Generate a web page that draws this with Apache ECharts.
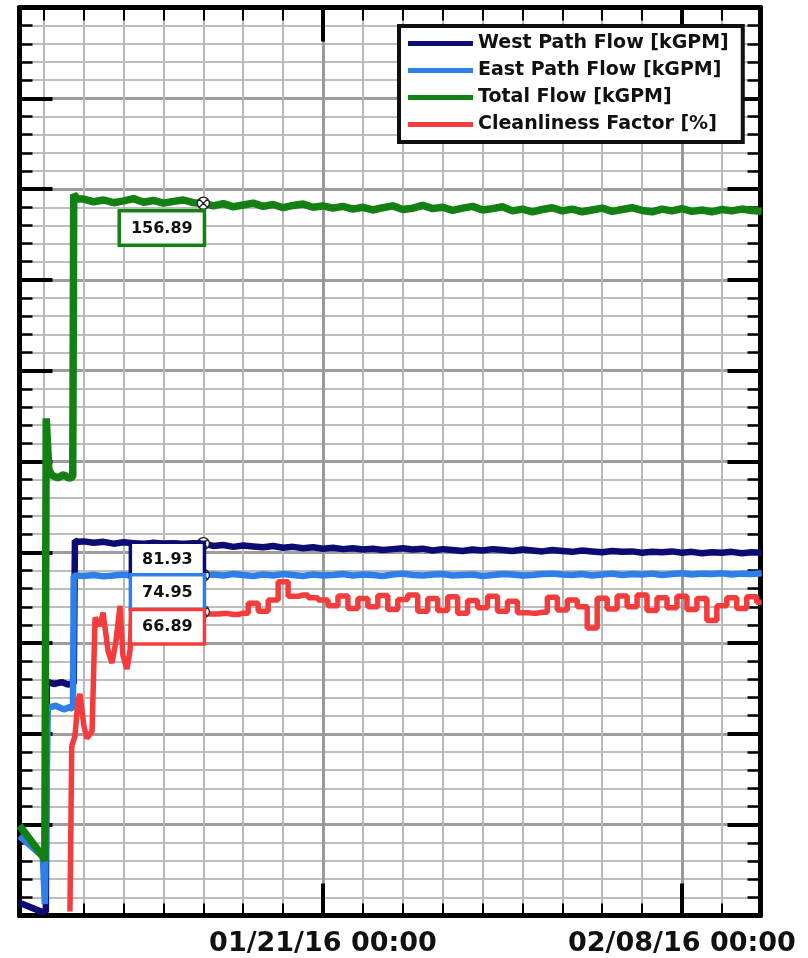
<!DOCTYPE html>
<html>
<head>
<meta charset="utf-8">
<title>Flow and Cleanliness Factor</title>
<script src="https://cdn.jsdelivr.net/npm/echarts@6/dist/echarts.min.js"></script>
<style>
  html, body { margin: 0; padding: 0; background: #fff; }
  #chart1 { width: 808px; height: 958px; }
</style>
</head>
<body>
<div id="chart1"></div>
<script>
// time is kept as days relative to 01/21/16 00:00
var DAY = 86400000;
var T0 = new Date(2016, 0, 21, 0, 0).getTime();
function toTime(d) { return T0 + d * DAY; }

var xMinDay = -15.22;
var xMaxDay = 21.94;
var gridDays = [-14, -12, -10, -8, -6, -4, -2, 0, 2, 4, 6, 8, 10, 12, 14, 16, 18, 20];
var majorDays = [0, 18];
var xTickLabels = ['01/21/16 00:00', '02/08/16 00:00'];

var seriesNames = ['West Path Flow [kGPM]', 'East Path Flow [kGPM]', 'Total Flow [kGPM]', 'Cleanliness Factor [%]'];
var seriesColors = ['#0b0b73', '#2e7fe8', '#138013', '#f53c3c'];

// datatips: day, value
var tipDay = -6;
var tipValues = [81.93, 74.95, 156.89, 66.89];

var STEP = 0.5;

// start-up part, [day, value]
var westEarly = [[-15.22, 2.8], [-14.1, 0.8], [-13.9, 0.8], [-13.85, 51.5], [-13.5, 51.0], [-13.1, 51.4], [-12.8, 50.9], [-12.5, 51.1], [-12.44, 82.6], [-12.3, 82.3]];
var westStart = -12.0;
var westSteady = [82.4, 82.1, 82.3, 81.9, 82.2, 82.0, 81.8, 82.1, 81.9, 82.0, 81.7, 82.0, 81.93,
  81.4, 81.6, 81.2, 81.5, 81.3, 81.1, 81.4, 81.0, 81.2, 80.9, 81.1, 80.8,
  81.0, 80.7, 80.9, 80.6, 80.8, 80.5, 80.7, 80.9, 80.6, 80.8, 80.4, 80.7, 80.5, 80.3, 80.6, 80.4,
  80.7, 80.5, 80.3, 80.6, 80.4, 80.2, 80.5, 80.3, 80.1, 80.4, 80.2, 80.0, 80.3, 80.1, 80.2, 79.9,
  80.1, 80.0, 80.2, 79.9, 80.1, 79.8, 80.0, 79.9, 80.1, 79.8, 80.0, 79.9];

var eastEarly = [[-15.22, 17.5], [-14.05, 13.0], [-13.95, 2.5], [-13.85, 2.5], [-13.8, 45.8], [-13.4, 46.2], [-13.0, 45.4], [-12.7, 45.9], [-12.54, 45.5], [-12.5, 74.8], [-12.3, 74.9]];
var eastStart = -12.0;
var eastSteady = [74.8, 75.0, 74.7, 74.9, 75.1, 74.8, 75.0, 74.9, 75.2, 74.9, 75.0, 74.8, 74.95,
  75.1, 74.9, 75.2, 75.0, 74.8, 75.1, 74.9, 75.2, 75.0, 74.8, 75.1, 74.9,
  75.0, 75.2, 74.9, 75.1, 75.0, 74.8, 75.1, 75.3, 75.0, 74.9, 75.1, 75.2, 74.9, 75.0, 75.1, 74.8,
  75.0, 75.2, 75.1, 74.9, 75.0, 75.2, 75.3, 75.1, 75.0, 75.2, 74.9, 75.1, 75.3, 75.0, 75.2, 75.1,
  75.3, 75.0, 75.2, 75.4, 75.1, 75.3, 75.2, 75.4, 75.1, 75.3, 75.2, 75.4];

var totalEarly = [[-15.22, 19.8], [-14.05, 13.0], [-13.95, 12.0], [-13.88, 109.5], [-13.75, 98.2], [-13.6, 97.0], [-13.3, 96.4], [-13.0, 97.1], [-12.75, 96.3], [-12.55, 96.6], [-12.5, 158.8], [-12.3, 157.8]];
var totalStart = -12.0;
var totalSteady = [157.8, 157.2, 157.6, 157.0, 157.4, 157.9, 157.1, 157.5, 156.9, 157.3, 157.6, 157.0, 156.89,
  156.3, 156.8, 156.1, 156.5, 156.9, 156.2, 156.6, 155.9, 156.4, 156.7, 156.0, 156.3,
  155.8, 156.2, 155.6, 156.0, 155.4, 155.9, 156.3, 155.5, 155.8, 156.4, 155.7, 156.0, 155.3, 155.8,
  156.2, 155.4, 155.7, 156.1, 155.2, 155.6, 155.0, 155.5, 155.9, 155.2, 155.6, 155.0, 155.4, 155.8,
  155.1, 155.5, 155.9, 155.3, 155.0, 155.6, 155.2, 155.7, 155.1, 155.4, 155.0, 155.5, 155.2, 155.6, 155.3, 155.1];

var cleanEarly = [[-12.69, 0.9], [-12.6, 37.3], [-12.44, 39.5], [-12.29, 47.2], [-12.19, 48.8], [-11.99, 41.7], [-11.84, 39.0],
  [-11.58, 40.6], [-11.43, 65.6], [-11.18, 63.8], [-11.03, 66.7], [-10.78, 58.3], [-10.58, 55.6], [-10.38, 60.5],
  [-10.18, 68.2], [-10.03, 57.2], [-9.83, 54.3], [-9.68, 58.3], [-9.53, 71.1], [-9.18, 68.2], [-8.68, 67.5],
  [-7.67, 67.1], [-6.67, 66.7], [-6.0, 66.89]];
var cleanStart = -6.0;
var cleanSteady = [66.9, 66.4, 66.5, 66.3, 66.6, 68.8, 67.0, 69.5, 73.5, 70.3, 70.6, 70.0,
  69.5, 68.2, 70.4, 67.6, 69.8, 68.0, 70.5, 67.4, 69.6, 70.6, 67.0, 69.8, 67.2, 70.2, 66.6, 69.4,
  67.8, 70.3, 67.0, 69.2, 66.7, 66.6, 66.8, 70.1, 67.3, 69.5, 68.0, 63.3, 69.9, 67.5, 70.4, 68.0,
  70.6, 67.2, 70.0, 67.8, 70.3, 67.4, 69.8, 65.0, 68.2, 70.0, 67.6, 70.2, 69.0];

function early(arr) {
    return arr.map(function (p) { return [toTime(p[0]), p[1]]; });
}
function steady(start, vals) {
    var res = [];
    for (var i = 0; i < vals.length; i++) {
        res.push([toTime(start + i * STEP), vals[i]]);
    }
    return res;
}

var FONT = 'DejaVu Sans';

function tip(idx, dy) {
    return {
        symbol: 'path://M12,2A10,10 0 1,1 11.99,2Z M5,5L19,19 M19,5L5,19',
        symbolSize: 12,
        itemStyle: { color: '#fff', borderColor: '#222', borderWidth: 1.3 },
        label: {
            show: true,
            position: [6, 6 + dy],
            align: 'right',
            verticalAlign: 'top',
            formatter: function (p) { return p.value.toFixed(2); },
            fontFamily: FONT,
            fontSize: 16,
            fontWeight: 'bold',
            color: '#111',
            backgroundColor: '#fff',
            borderColor: seriesColors[idx],
            borderWidth: 3.5,
            padding: [8, 10, 7, 10]
        },
        data: [{ coord: [toTime(tipDay), tipValues[idx]], value: tipValues[idx] }]
    };
}

function lineSeries(idx, data, lw, extra) {
    var s = {
        name: seriesNames[idx],
        type: 'line',
        xAxisIndex: 0,
        yAxisIndex: 0,
        showSymbol: false,
        symbol: 'none',
        animation: false,
        color: seriesColors[idx],
        lineStyle: { width: lw, color: seriesColors[idx] },
        data: data
    };
    if (extra) {
        for (var k in extra) s[k] = extra[k];
    }
    return s;
}

var xMin = toTime(xMinDay), xMax = toTime(xMaxDay);

function xAxisBase(pos) {
    return {
        type: 'value', position: pos, min: xMin, max: xMax, gridIndex: 0,
        axisLine: { show: true, onZero: false, lineStyle: { color: '#000', width: 5 } },
        splitLine: { show: false },
        axisLabel: { show: false }
    };
}

var xBottom = xAxisBase('bottom');
xBottom.axisTick = { show: true, inside: true, length: 12, customValues: gridDays.map(toTime), lineStyle: { color: '#000', width: 2 } };
xBottom.splitLine = { show: true, lineStyle: { color: '#b8b8b8', width: 2 } };
xBottom.axisLabel = {
    show: true,
    customValues: majorDays.map(toTime),
    margin: 15,
    fontFamily: FONT, fontSize: 27, fontWeight: 'bold', color: '#111',
    formatter: function (v) {
        for (var i = 0; i < majorDays.length; i++) {
            if (Math.abs(toTime(majorDays[i]) - v) < 1000) return xTickLabels[i];
        }
        return '';
    }
};

var xTop = xAxisBase('top');
xTop.axisTick = { show: true, inside: true, length: 13, customValues: gridDays.map(toTime), lineStyle: { color: '#000', width: 2 } };

var xBottomMajor = xAxisBase('bottom');
xBottomMajor.axisLine = { show: false, onZero: false };
xBottomMajor.axisTick = { show: true, inside: true, length: 32, customValues: majorDays.map(toTime), lineStyle: { color: '#000', width: 4 } };
xBottomMajor.splitLine = { show: true, lineStyle: { color: '#9a9a9a', width: 3 } };

var xTopMajor = xAxisBase('top');
xTopMajor.axisLine = { show: false, onZero: false };
xTopMajor.axisTick = { show: true, inside: true, length: 34, customValues: majorDays.map(toTime), lineStyle: { color: '#000', width: 4 } };

function yAxisBase(pos, grid) {
    return {
        type: 'value', position: pos, min: 0, max: 200, interval: 20,
        axisLine: { show: true, onZero: false, lineStyle: { color: '#000', width: 5 } },
        axisTick: { show: true, inside: true, length: 33, lineStyle: { color: '#000', width: 4 } },
        minorTick: { show: true, splitNumber: 5, length: 13, lineStyle: { color: '#000', width: 2.5 } },
        splitLine: { show: grid, lineStyle: { color: '#9d9d9d', width: 3 } },
        minorSplitLine: { show: grid, lineStyle: { color: '#bdbdbd', width: 2 } },
        axisLabel: { show: false }
    };
}

var Chart1 = echarts.init(document.getElementById('chart1'));
var option1 = {
    backgroundColor: '#fff',
    animation: false,
    grid: { left: 19.5, right: 47.5, top: 7.5, bottom: 42.5, containLabel: false },
    legend: {
        show: true,
        orient: 'vertical',
        left: 399,
        top: 26,
        padding: [8, 14, 8, 9],
        backgroundColor: '#fff',
        borderColor: '#111',
        borderWidth: 4,
        borderRadius: 0,
        icon: 'rect',
        itemWidth: 65,
        itemHeight: 5,
        itemGap: 8,
        selectedMode: false,
        textStyle: { fontFamily: FONT, fontSize: 19, fontWeight: 'bold', color: '#111' },
        data: seriesNames
    },
    xAxis: [xBottom, xTop, xBottomMajor, xTopMajor],
    yAxis: [yAxisBase('left', true), yAxisBase('right', false)],
    series: [
        lineSeries(0, early(westEarly).concat(steady(westStart, westSteady)), 6.5, { markPoint: tip(0, 1) }),
        lineSeries(1, early(eastEarly).concat(steady(eastStart, eastSteady)), 6.5, { markPoint: tip(1, 2) }),
        lineSeries(2, early(totalEarly).concat(steady(totalStart, totalSteady)), 7.5, { markPoint: tip(2, 10) }),
        lineSeries(3, early(cleanEarly), 5.5, { markPoint: tip(3, 0) }),
        lineSeries(3, steady(cleanStart, cleanSteady), 5.5, { step: 'middle' })
    ]
};
Chart1.setOption(option1);

window.onresize = function () {
    Chart1.resize();
};
</script>
</body>
</html>
